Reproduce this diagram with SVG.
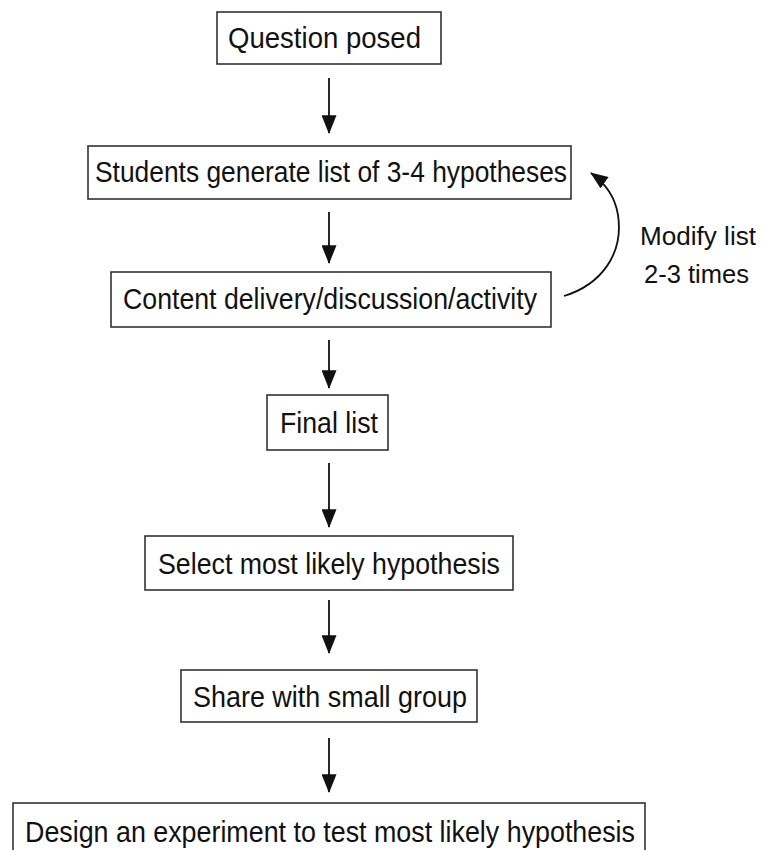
<svg xmlns="http://www.w3.org/2000/svg" width="765" height="850" viewBox="0 0 765 850">
  <style>
    .box { fill: #ffffff; stroke: #333333; stroke-width: 1.6; }
    .lbl { font-family: "Liberation Sans", Arial, sans-serif; font-size: 30px; fill: #111111; }
    .side { font-size: 26px; }
    .conn { fill: none; stroke: #111111; stroke-width: 1.8; }
  </style>
  <defs>
    <marker id="head" viewBox="0 0 20 16" refX="19" refY="8" markerWidth="20" markerHeight="15" markerUnits="userSpaceOnUse" orient="auto">
      <path d="M0,0 L20,8 L0,16 z" fill="#111111"/>
    </marker>
    <marker id="head2" viewBox="0 0 20 16" refX="19" refY="8" markerWidth="18" markerHeight="14" markerUnits="userSpaceOnUse" orient="auto">
      <path d="M0,0 L20,8 L0,16 z" fill="#111111"/>
    </marker>
  </defs>
  <rect width="765" height="850" fill="#ffffff"/>

  <g id="connectors">
    <line class="conn" x1="329" y1="78" x2="329" y2="133" marker-end="url(#head)"/>
    <line class="conn" x1="329" y1="212" x2="329" y2="263" marker-end="url(#head)"/>
    <line class="conn" x1="329" y1="340" x2="329" y2="388" marker-end="url(#head)"/>
    <line class="conn" x1="329" y1="463" x2="329" y2="527" marker-end="url(#head)"/>
    <line class="conn" x1="329" y1="600" x2="329" y2="653" marker-end="url(#head)"/>
    <line class="conn" x1="329" y1="738" x2="329" y2="792" marker-end="url(#head)"/>
    <path class="conn" d="M564,296 C600,285 624,255 618,215 C615,196 605,183 591,173" marker-end="url(#head2)"/>
    <text class="lbl side" x="640" y="245" textLength="116" lengthAdjust="spacingAndGlyphs">Modify list</text>
    <text class="lbl side" x="644" y="283" textLength="105" lengthAdjust="spacingAndGlyphs">2-3 times</text>
  </g>

  <g id="n1">
    <rect class="box" x="217" y="12" width="224" height="52"/>
    <text class="lbl" x="228" y="48" textLength="193" lengthAdjust="spacingAndGlyphs">Question posed</text>
  </g>
  <g id="n2">
    <rect class="box" x="88" y="146" width="483" height="53"/>
    <text class="lbl" x="95" y="182" textLength="472" lengthAdjust="spacingAndGlyphs">Students generate list of 3-4 hypotheses</text>
  </g>
  <g id="n3">
    <rect class="box" x="111" y="272" width="440" height="55"/>
    <text class="lbl" x="123" y="309" textLength="414" lengthAdjust="spacingAndGlyphs">Content delivery/discussion/activity</text>
  </g>
  <g id="n4">
    <rect class="box" x="267" y="395" width="121" height="55"/>
    <text class="lbl" x="280" y="433" textLength="98" lengthAdjust="spacingAndGlyphs">Final list</text>
  </g>
  <g id="n5">
    <rect class="box" x="145" y="536" width="368" height="54"/>
    <text class="lbl" x="158" y="574" textLength="342" lengthAdjust="spacingAndGlyphs">Select most likely hypothesis</text>
  </g>
  <g id="n6">
    <rect class="box" x="181" y="670" width="296" height="52"/>
    <text class="lbl" x="193" y="707" textLength="274" lengthAdjust="spacingAndGlyphs">Share with small group</text>
  </g>
  <g id="n7">
    <rect class="box" x="13" y="803" width="632" height="60"/>
    <text class="lbl" x="25" y="842" textLength="610" lengthAdjust="spacingAndGlyphs">Design an experiment to test most likely hypothesis</text>
  </g>
</svg>
